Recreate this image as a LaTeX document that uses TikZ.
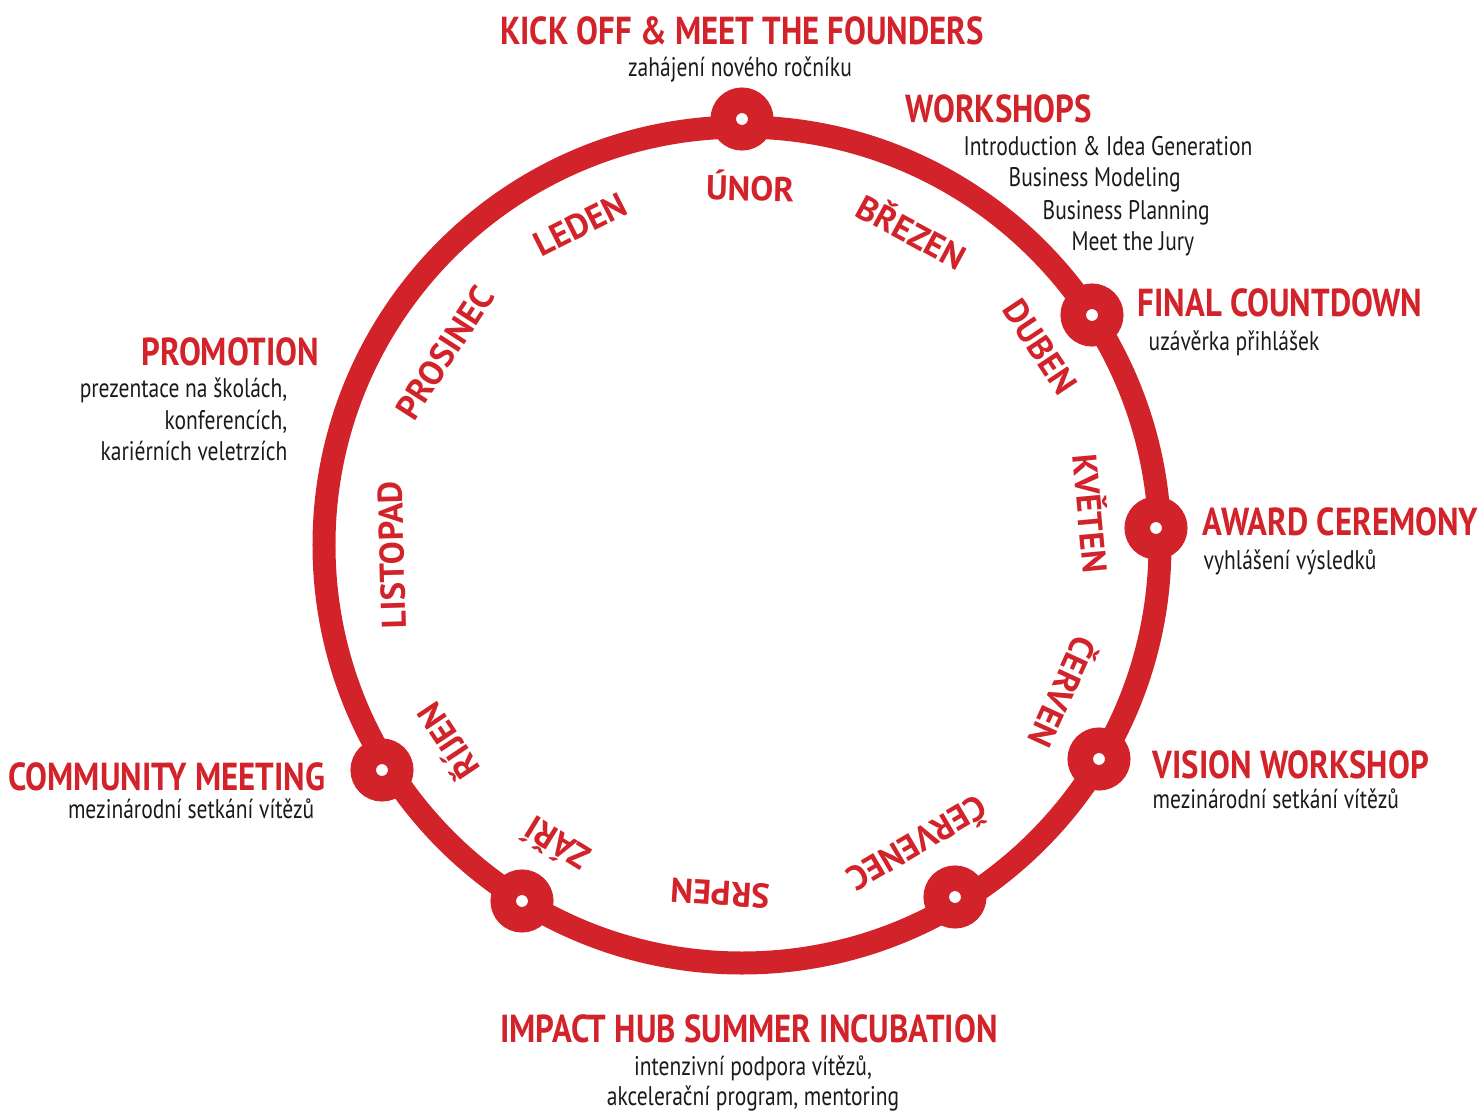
\documentclass[tikz,border=0pt]{standalone}
\usepackage{fontspec}
\setmainfont{PT Sans}[FakeStretch=0.8]
\newfontfamily\titlefont{PT Sans}[FakeStretch=0.84]
\newfontfamily\monthfont{PT Sans}
\usepackage{tikz}
\definecolor{ringred}{HTML}{D2232A}
\definecolor{notegrey}{HTML}{1A1A1A}

\begin{document}
\begin{tikzpicture}[
  ring/.style={draw=ringred,line width=2.3mm},
  stop/.style={circle,draw=ringred,fill=white,line width=2.55mm,minimum size=3.75mm,inner sep=0pt},
  month/.style={text=ringred,font=\monthfont\fontsize{9.8}{10}\selectfont\bfseries,inner sep=0pt},
  title/.style={text=ringred,font=\titlefont\fontsize{11.1}{12}\selectfont\bfseries,inner sep=0pt},
  note/.style={text=notegrey,font=\fontsize{7.65}{9}\selectfont,inner sep=0pt,align=center}
]
\useasboundingbox (-7.42,-5.66) rectangle (7.39,5.45);
\coordinate (c) at (0,0);
\draw[ring] (c) circle (4.18);

\node[stop] (kick) at (0,4.26) {};
\node[stop] (final) at (3.50,2.30) {};
\node[stop] (award) at (4.14,0.17) {};
\node[stop] (vision) at (3.57,-2.14) {};
\node[stop] (july) at (2.13,-3.52) {};
\node[stop] (august) at (-2.20,-3.56) {};
\node[stop] (community) at (-3.60,-2.25) {};

\node[month,rotate=-1.3] (unor) at (88.7:3.59) {ÚNOR};
\node[month,rotate=-28.4] (brezen) at (61.6:3.58) {BŘEZEN};
\node[month,rotate=-56.4] (duben) at (33.6:3.58) {DUBEN};
\node[month,rotate=-84.8] (kveten) at (5.2:3.52) {KVĚTEN};
\node[month,rotate=-114.6] (cerven) at (-24.6:3.55) {ČERVEN};
\node[month,rotate=-149.6] (cervenec) at (-59.6:3.48) {ČERVENEC};
\node[month,rotate=176.4] (srpen) at (-93.6:3.49) {SRPEN};
\node[month,rotate=148.3] (zari) at (-121.7:3.53) {ZÁŘÍ};
\node[month,rotate=123.7] (rijen) at (-146.3:3.55) {ŘÍJEN};
\node[month,rotate=91.6] (listopad) at (-178.4:3.50) {LISTOPAD};
\node[month,rotate=57.1] (prosinec) at (147.1:3.54) {PROSINEC};
\node[month,rotate=26.8] (leden) at (116.8:3.59) {LEDEN};

\node[title,anchor=base] (kicktitle) at (0,5.00) {KICK OFF \& MEET THE FOUNDERS};
\node[note,anchor=base] (kicknote) at (-0.02,4.68) {zahájení nového ročníku};

\node[title,anchor=base west] (worktitle) at (1.63,4.22) {WORKSHOPS};
\node[note,anchor=base west] (worknote1) at (2.21,3.90) {Introduction \& Idea Generation};
\node[note,anchor=base west] (worknote2) at (2.66,3.58) {Business Modeling};
\node[note,anchor=base west] (worknote3) at (3.00,3.26) {Business Planning};
\node[note,anchor=base west] (worknote4) at (3.29,2.95) {Meet the Jury};

\node[title,anchor=base west] (finaltitle) at (3.95,2.28) {FINAL COUNTDOWN};
\node[note,anchor=base west] (finalnote) at (4.06,1.95) {uzávěrka přihlášek};

\node[title,anchor=base west] (awardtitle) at (4.60,0.10) {AWARD CEREMONY};
\node[note,anchor=base west] (awardnote) at (4.61,-0.24) {vyhlášení výsledků};

\node[title,anchor=base west] (visiontitle) at (4.10,-2.33) {VISION WORKSHOP};
\node[note,anchor=base west] (visionnote) at (4.10,-2.63) {mezinárodní setkání vítězů};

\node[title,anchor=base] (hubtitle) at (0.07,-4.97) {IMPACT HUB SUMMER INCUBATION};
\node[note,anchor=base] (hubnote1) at (0.11,-5.30) {intenzivní podpora vítězů,};
\node[note,anchor=base] (hubnote2) at (0.11,-5.60) {akcelerační program, mentoring};

\node[title,anchor=base east] (promotitle) at (-4.22,1.80) {PROMOTION};
\node[note,anchor=base east] (promonote1) at (-4.54,1.48) {prezentace na školách,};
\node[note,anchor=base east] (promonote2) at (-4.54,1.16) {konferencích,};
\node[note,anchor=base east] (promonote3) at (-4.54,0.85) {kariérních veletrzích};

\node[title,anchor=base east] (commtitle) at (-4.16,-2.45) {COMMUNITY MEETING};
\node[note,anchor=base east] (commnote) at (-4.27,-2.73) {mezinárodní setkání vítězů};
\end{tikzpicture}
\end{document}
